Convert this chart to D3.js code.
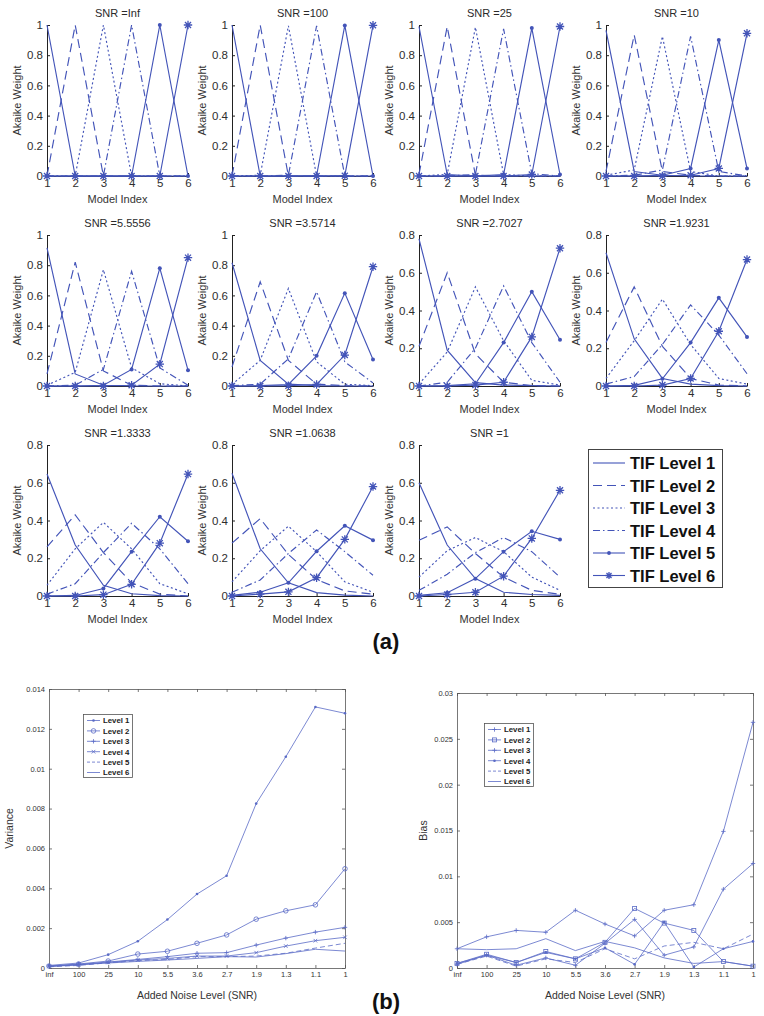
<!DOCTYPE html>
<html><head><meta charset="utf-8">
<script src="https://cdn.jsdelivr.net/npm/d3@7"></script>
<style>body{margin:0;background:#fff}svg{display:block}text{font-family:"Liberation Sans",Arial,sans-serif}</style>
</head><body><div id="chart"></div>
<script>
// ---------- DATA ----------
const modelIndex = [1,2,3,4,5,6];
const tifLevels = ["TIF Level 1","TIF Level 2","TIF Level 3","TIF Level 4","TIF Level 5","TIF Level 6"];
const snrTitles = ["Inf","100","25","10","5.5556","3.5714","2.7027","1.9231","1.3333","1.0638","1"];
const panelYMax = [1,1,1,1,1,1,0.8,0.8,0.8,0.8,0.8];
// rows: TIF level 1..6, columns: model index 1..6
const wInf = [[1,0,0,0,0,0],[0,1,0,0,0,0],[0,0,1,0,0,0],[0,0,0,1,0,0],[0,0,0,0,1,0],[0,0,0,0,0,1]];
const w100 = [[1,0,0,0,0,0],[0,1,0,0,0,0],[0,0.005,0.995,0,0,0],[0,0,0.005,0.995,0,0],[0,0,0,0.003,0.997,0],[0,0,0,0,0.002,0.998]];
const w25 = [[0.99,0.01,0,0,0,0],[0.01,0.99,0.005,0,0,0],[0,0.01,0.985,0.01,0,0],[0,0,0.01,0.975,0.015,0],[0,0,0,0.01,0.98,0.01],[0,0,0,0,0.01,0.99]];
const w10 = [[0.965,0.03,0.005,0,0,0],[0.03,0.935,0.03,0.005,0,0],[0.005,0.04,0.925,0.03,0,0],[0,0.005,0.04,0.925,0.03,0],[0,0,0.005,0.05,0.9,0.05],[0,0,0,0.005,0.05,0.945]];
const w5556 = [[0.915,0.08,0.005,0,0,0],[0.08,0.82,0.1,0.005,0,0],[0.005,0.09,0.77,0.12,0.015,0],[0,0.005,0.11,0.76,0.12,0.005],[0,0,0.005,0.11,0.78,0.105],[0,0,0,0.005,0.145,0.85]];
const w3571 = [[0.816,0.17,0.012,0.002,0,0],[0.126,0.69,0.17,0.012,0.002,0],[0.01,0.17,0.646,0.16,0.012,0.002],[0.002,0.012,0.18,0.624,0.16,0.02],[0,0.002,0.01,0.2,0.615,0.175],[0,0,0.002,0.01,0.205,0.79]];
const w2703 = [[0.78,0.19,0.018,0.005,0.002,0],[0.21,0.6,0.17,0.02,0.002,0],[0.01,0.18,0.525,0.24,0.03,0.005],[0,0.02,0.2,0.53,0.23,0.02],[0,0.002,0.012,0.23,0.5,0.245],[0,0,0.005,0.02,0.26,0.73]];
const w1923 = [[0.706,0.25,0.04,0.01,0.002,0],[0.23,0.525,0.21,0.04,0.005,0],[0.04,0.24,0.46,0.22,0.04,0.01],[0.01,0.05,0.22,0.43,0.27,0.065],[0,0.003,0.038,0.23,0.467,0.26],[0,0,0.005,0.04,0.29,0.67]];
const w1333 = [[0.646,0.27,0.057,0.012,0.002,0],[0.26,0.43,0.23,0.07,0.01,0],[0.057,0.25,0.39,0.25,0.065,0.012],[0.01,0.065,0.23,0.385,0.25,0.065],[0,0.003,0.04,0.235,0.42,0.29],[0,0,0.007,0.062,0.28,0.646]];
const w1064 = [[0.65,0.25,0.07,0.018,0.005,0],[0.28,0.41,0.22,0.087,0.027,0.01],[0.075,0.24,0.37,0.235,0.075,0.02],[0.02,0.085,0.225,0.35,0.235,0.11],[0.003,0.02,0.07,0.237,0.372,0.296],[0,0.01,0.022,0.097,0.3,0.58]];
const w1 = [[0.6,0.27,0.092,0.02,0.008,0.003],[0.295,0.366,0.225,0.1,0.03,0.009],[0.1,0.24,0.31,0.235,0.1,0.03],[0.03,0.115,0.23,0.31,0.235,0.1],[0.003,0.017,0.092,0.235,0.343,0.3],[0,0.008,0.02,0.105,0.305,0.56]];
const panelWeights = [wInf,w100,w25,w10,w5556,w3571,w2703,w1923,w1333,w1064,w1];

const noiseLabels = ["inf","100","25","10","5.5","3.6","2.7","1.9","1.3","1.1","1"];
const levelNames = ["Level 1","Level 2","Level 3","Level 4","Level 5","Level 6"];
const varL1 = [0.00013,0.00025,0.00067,0.00134,0.00243,0.00371,0.00463,0.00825,0.0106,0.0131,0.01278];
const varL2 = [0.0001,0.0002,0.00035,0.0007,0.00084,0.00124,0.00166,0.00245,0.00287,0.00317,0.00498];
const varL3 = [0.00009,0.00018,0.0003,0.00043,0.00057,0.00074,0.00077,0.00115,0.0015,0.0018,0.00204];
const varL4 = [0.00008,0.00015,0.00028,0.0004,0.00048,0.0006,0.0006,0.00077,0.0011,0.00137,0.00154];
const varL5 = [0.00006,0.00013,0.00026,0.00037,0.00043,0.00057,0.00057,0.0006,0.00074,0.001,0.00124];
const varL6 = [0.00008,0.00017,0.00025,0.00033,0.0004,0.00048,0.00057,0.00055,0.00072,0.00094,0.00085];
const biasL1 = [0.0021,0.0034,0.0041,0.0039,0.0063,0.0048,0.0035,0.0063,0.0069,0.0149,0.0268];
const biasL2 = [0.0005,0.0015,0.0006,0.0018,0.001,0.0028,0.0065,0.0049,0.0041,0.0007,0.0002];
const biasL3 = [0.0004,0.0014,0.0003,0.0011,0.0003,0.0027,0.0053,0.0014,0.0023,0.0086,0.0114];
const biasL4 = [0.0005,0.0014,0.0006,0.0017,0.001,0.0022,0.0004,0.005,0.0001,0.0021,0.0029];
const biasL5 = [0.0004,0.0013,0.0002,0.001,0.0006,0.0021,0.001,0.0024,0.0028,0.0021,0.0037];
const biasL6 = [0.0021,0.002,0.0021,0.0032,0.0019,0.0029,0.0022,0.0011,0.0005,0.0007,0.0002];

// ---------- DRAW ----------
const W = 764, H = 1016;
const svg = d3.select("#chart").append("svg").attr("width", W).attr("height", H);
const blue = "#4354b8", txt = "#2a2a2a";
const subDash = [null, "9,5", "2,2.5", "7,3,1.5,3", null, null];
const fs = 11;

function asterisk(g, x, y, r, color) {
  const a = r * 0.72;
  g.append("path").attr("d",
    `M${x},${y-r}V${y+r}M${x-r},${y}H${x+r}M${x-a},${y-a}L${x+a},${y+a}M${x-a},${y+a}L${x+a},${y-a}`)
    .attr("stroke", color).attr("stroke-width", 1.3).attr("fill", "none");
}

const colLeft = [47, 232, 419, 606], rowTop = [25, 235, 445], pw = 141, ph = 151;
panelWeights.forEach((wm, i) => {
  const r = Math.floor(i / 4), c = i % 4;
  const g = svg.append("g").attr("transform", `translate(${colLeft[c]},${rowTop[r]})`);
  const ymax = panelYMax[i];
  const x = d3.scaleLinear().domain([1, 6]).range([0, pw]);
  const y = d3.scaleLinear().domain([0, ymax]).range([ph, 0]);
  const yAx = g.append("g").call(d3.axisLeft(y).tickValues(d3.range(0, ymax + 1e-9, 0.2))
      .tickFormat(d => String(+d.toFixed(1))).tickSizeInner(-3).tickSizeOuter(0).tickPadding(4));
  const xAx = g.append("g").attr("transform", `translate(0,${ph})`)
      .call(d3.axisBottom(x).tickValues(modelIndex).tickFormat(d3.format("d")).tickSizeInner(-3).tickSizeOuter(0).tickPadding(3));
  [yAx, xAx].forEach(a => {
    a.selectAll("path,line").attr("stroke", "#222");
    a.selectAll("text").attr("font-size", fs + 0.5).attr("fill", "#2e2e2e");
  });
  const line = d3.line().x((d, j) => x(modelIndex[j])).y(d => y(d));
  wm.forEach((vals, k) => {
    g.append("path").attr("d", line(vals)).attr("fill", "none").attr("stroke", blue)
      .attr("stroke-width", 1.15).attr("stroke-dasharray", subDash[k]);
    if (k === 4) vals.forEach((v, j) => g.append("circle").attr("cx", x(modelIndex[j])).attr("cy", y(v)).attr("r", 2).attr("fill", blue));
    if (k === 5) vals.forEach((v, j) => asterisk(g, x(modelIndex[j]), y(v), 4.2, blue));
  });
  g.append("text").attr("x", pw / 2).attr("y", -8).attr("text-anchor", "middle")
    .attr("font-size", fs).attr("fill", txt).text("SNR =" + snrTitles[i]);
  g.append("text").attr("x", pw / 2).attr("y", ph + 27).attr("text-anchor", "middle")
    .attr("font-size", fs).attr("fill", "#333").text("Model Index");
  g.append("text").attr("transform", `translate(-26,${ph / 2}) rotate(-90)`).attr("text-anchor", "middle")
    .attr("font-size", fs).attr("fill", "#333").text("Akaike Weight");
});

// legend (a)
{
  const lg = svg.append("g");
  lg.append("rect").attr("x", 588.5).attr("y", 449.5).attr("width", 134).attr("height", 138)
    .attr("fill", "#fff").attr("stroke", "#444").attr("stroke-width", 1);
  tifLevels.forEach((name, k) => {
    const yy = 463 + k * 22.5;
    lg.append("line").attr("x1", 593).attr("x2", 625).attr("y1", yy).attr("y2", yy)
      .attr("stroke", blue).attr("stroke-width", 1.1).attr("stroke-dasharray", subDash[k]);
    if (k === 4) lg.append("circle").attr("cx", 609).attr("cy", yy).attr("r", 1.9).attr("fill", blue);
    if (k === 5) asterisk(lg, 609, yy, 3.5, blue);
    lg.append("text").attr("x", 630).attr("y", yy + 6).attr("font-size", 16.5).attr("font-weight", "bold")
      .attr("fill", "#111").text(name);
  });
}
svg.append("text").attr("x", 386).attr("y", 649).attr("text-anchor", "middle").attr("font-size", 22)
  .attr("font-weight", "bold").attr("fill", "#111").text("(a)");
svg.append("text").attr("x", 386).attr("y", 1009).attr("text-anchor", "middle").attr("font-size", 22)
  .attr("font-weight", "bold").attr("fill", "#111").text("(b)");

// ---------- bottom charts ----------
const lblue = "#5a6bc6";
function marker(g, type, cx, cy) {
  if (type === "dot") g.append("circle").attr("cx", cx).attr("cy", cy).attr("r", 1.3).attr("fill", lblue);
  else if (type === "circle") g.append("circle").attr("cx", cx).attr("cy", cy).attr("r", 2.3).attr("fill", "none").attr("stroke", lblue).attr("stroke-width", 0.8);
  else if (type === "square") g.append("rect").attr("x", cx - 2).attr("y", cy - 2).attr("width", 4).attr("height", 4).attr("fill", "none").attr("stroke", lblue).attr("stroke-width", 0.8);
  else if (type === "plus") g.append("path").attr("d", `M${cx-2.2},${cy}H${cx+2.2}M${cx},${cy-2.2}V${cy+2.2}`).attr("stroke", lblue).attr("stroke-width", 0.8);
  else if (type === "x") g.append("path").attr("d", `M${cx-1.8},${cy-1.8}L${cx+1.8},${cy+1.8}M${cx-1.8},${cy+1.8}L${cx+1.8},${cy-1.8}`).attr("stroke", lblue).attr("stroke-width", 0.8);
}
function bottomChart(o) {
  const g = svg.append("g").attr("transform", `translate(${o.left},${o.top})`);
  const w = o.w, h = o.h;
  const x = d3.scaleLinear().domain([1, noiseLabels.length]).range([0, w]);
  const y = d3.scaleLinear().domain([0, o.ymax]).range([h, 0]);
  const yt = d3.range(0, o.ymax + 1e-9, o.step);
  const xt = d3.range(1, noiseLabels.length + 1);
  const fmt = d => String(+d.toFixed(4));
  const axes = [
    g.append("g").call(d3.axisLeft(y).tickValues(yt).tickFormat(fmt).tickSizeInner(-3).tickSizeOuter(0).tickPadding(4)),
    g.append("g").attr("transform", `translate(${w},0)`).call(d3.axisRight(y).tickValues(yt).tickFormat("").tickSizeInner(-3).tickSizeOuter(0)),
    g.append("g").attr("transform", `translate(0,${h})`).call(d3.axisBottom(x).tickValues(xt).tickFormat(d => noiseLabels[d - 1]).tickSizeInner(-3).tickSizeOuter(0).tickPadding(4)),
    g.append("g").call(d3.axisTop(x).tickValues(xt).tickFormat("").tickSizeInner(-3).tickSizeOuter(0))
  ];
  axes.forEach(a => {
    a.selectAll("path,line").attr("stroke", "#555").attr("stroke-width", 0.8);
    a.selectAll("text").attr("font-size", 7.5).attr("fill", "#333");
  });
  const line = d3.line().x((d, j) => x(j + 1)).y(d => y(d));
  o.series.forEach((vals, k) => {
    g.append("path").attr("d", line(vals)).attr("fill", "none").attr("stroke", lblue)
      .attr("stroke-width", 0.8).attr("stroke-dasharray", o.dash[k]);
    vals.forEach((v, j) => marker(g, o.markers[k], x(j + 1), y(v)));
  });
  g.append("text").attr("transform", `translate(${o.ylx},${h / 2}) rotate(-90)`).attr("text-anchor", "middle")
    .attr("font-size", 10.5).attr("fill", "#333").text(o.ylabel);
  g.append("text").attr("x", w / 2).attr("y", h + 31).attr("text-anchor", "middle")
    .attr("font-size", 10.5).attr("fill", "#333").text("Added Noise Level (SNR)");
  // legend
  const lg = g.append("g").attr("transform", `translate(${o.lgx},${o.lgy})`);
  lg.append("rect").attr("x", 0.5).attr("y", 0.5).attr("width", 49).attr("height", 63)
    .attr("fill", "#fff").attr("stroke", "#555").attr("stroke-width", 0.8);
  levelNames.forEach((name, k) => {
    const yy = 6.5 + k * 10.4;
    lg.append("line").attr("x1", 4).attr("x2", 17).attr("y1", yy).attr("y2", yy)
      .attr("stroke", lblue).attr("stroke-width", 0.8).attr("stroke-dasharray", o.dash[k] ? "3,2" : null);
    marker(lg, o.markers[k], 10.5, yy);
    lg.append("text").attr("x", 20).attr("y", yy + 2.8).attr("font-size", 7.8).attr("font-weight", "bold")
      .attr("fill", "#222").text(name);
  });
}
bottomChart({left: 49, top: 689, w: 296, h: 279, ymax: 0.014, step: 0.002,
  series: [varL1, varL2, varL3, varL4, varL5, varL6],
  markers: ["dot", "circle", "plus", "x", "none", "none"],
  dash: [null, null, null, null, "5,3", null],
  ylabel: "Variance", ylx: -36, lgx: 34, lgy: 25});
bottomChart({left: 457, top: 693, w: 296, h: 275, ymax: 0.03, step: 0.005,
  series: [biasL1, biasL2, biasL3, biasL4, biasL5, biasL6],
  markers: ["plus", "square", "plus", "dot", "none", "none"],
  dash: [null, null, null, null, "5,3", null],
  ylabel: "Bias", ylx: -30, lgx: 27, lgy: 30});
</script></body></html>
